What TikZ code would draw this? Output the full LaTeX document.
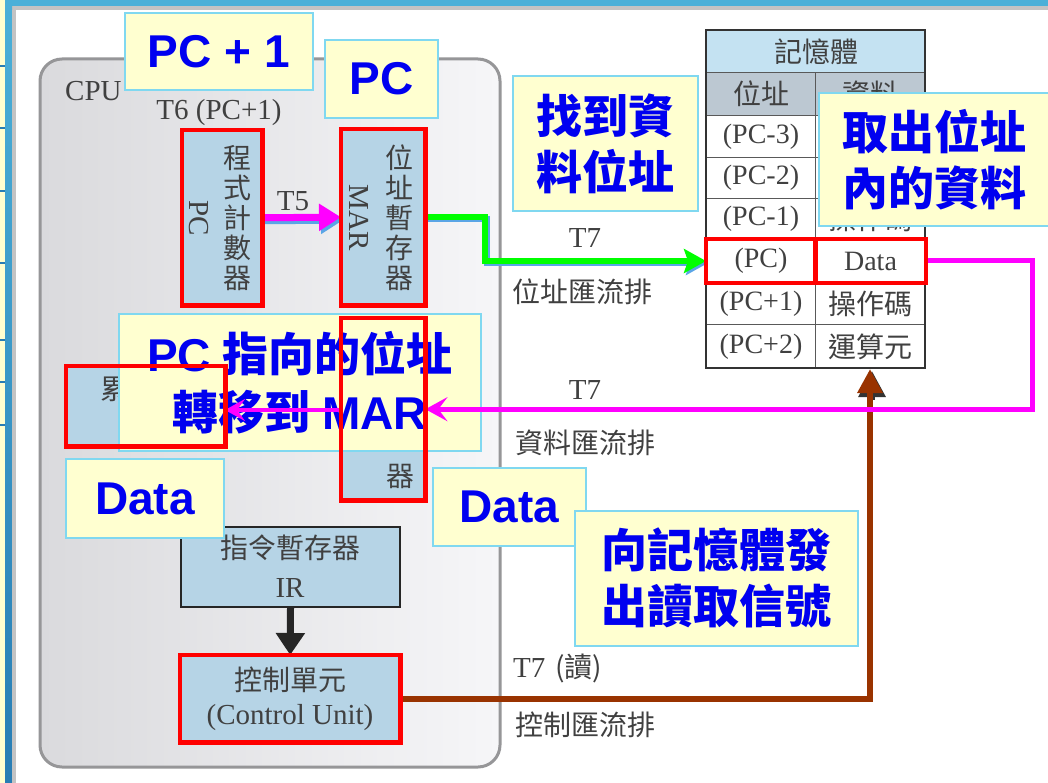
\documentclass[tikz,border=0pt]{standalone}
\usepackage{fontspec}
\setmainfont{Liberation Serif}
\newfontfamily\ovlsans{Liberation Sans}
\newfontfamily\cjk{Noto Sans CJK TC}
\usetikzlibrary{arrows.meta}
\definecolor{ovlfill}{RGB}{255,255,208}
\definecolor{ovledge}{RGB}{128,216,240}
\definecolor{ovltext}{RGB}{0,0,240}
\definecolor{regfill}{RGB}{182,212,230}
\definecolor{txtgray}{RGB}{64,64,64}
\definecolor{hdrfill}{RGB}{196,226,242}
\definecolor{hdrtwo}{RGB}{188,200,210}
\definecolor{busmag}{RGB}{255,0,255}
\definecolor{busgreen}{RGB}{0,255,0}
\definecolor{busbrown}{RGB}{153,51,0}
\definecolor{shadowblue}{RGB}{90,165,230}
\definecolor{topblue}{RGB}{75,176,216}
\definecolor{darkblue}{RGB}{40,125,180}
\definecolor{cpuedge}{RGB}{150,150,152}
\definecolor{stripgray}{RGB}{195,195,195}
\begin{document}
\begin{tikzpicture}[x=1pt,y=-1pt,
  ovl/.style={draw=ovledge, line width=1.8, fill=ovlfill, text=ovltext, align=center, inner sep=0, anchor=north west},
  ovlfont/.style={font=\cjk\bfseries\fontsize{46}{56}\selectfont},
  latfont/.style={font=\ovlsans\bfseries\fontsize{46}{56}\selectfont},
  reg/.style={fill=regfill, inner sep=0, anchor=north west},
  redbox/.style={draw=red, line width=4.5},
  gl/.style={text=txtgray, font=\fontsize{29}{31}\selectfont, inner sep=0},
  glc/.style={text=txtgray, font=\cjk\fontsize{28}{30}\selectfont, inner sep=0, align=center},
  cell/.style={draw=gray!70!black, line width=1, inner sep=0, anchor=north west, text=txtgray, font=\fontsize{28}{30}\selectfont},
  cellc/.style={cell, font=\cjk\fontsize{28}{30}\selectfont},
]
\useasboundingbox (0,0) rectangle (1048,783);
\fill[white] (0,0) rectangle (1048,783);
% frame of the slide
\fill[topblue] (0,0) rectangle (1048,6);
\fill[stripgray] (12,6) rectangle (1048,10);
\fill[ovlfill] (0,0) rectangle (5,783);
\foreach \yy in {66,128,191,263,340,382,425}
  \draw[darkblue, line width=1.5] (0,\yy) -- (5,\yy);
\shade[top color=topblue, bottom color=darkblue] (5,0) rectangle (12,783);
\fill[stripgray] (12,10) rectangle (16,783);

% CPU
\path[draw=cpuedge, line width=3, rounded corners=22, left color={rgb,255:red,218;green,218;blue,221}, right color={rgb,255:red,246;green,246;blue,248}] (40,59) rectangle (500,767);
\node[gl, anchor=west] (cpulbl) at (65,91) {CPU};
\node[gl] (t6lbl) at (219,113) {T6 (PC+1)};

% memory table
\node[cellc, fill=hdrfill, minimum width=219, minimum height=42] (memhdr) at (706,30) {記憶體};
\node[cellc, fill=hdrtwo, minimum width=109, minimum height=43] (addrhdr) at (706,72) {位址};
\node[cellc, fill=hdrtwo, minimum width=110, minimum height=43] (datahdr) at (815,72) {資料};
\node[cell, fill=white, minimum width=109, minimum height=42] (a1) at (706,115) {(PC-3)};
\node[cell, fill=white, minimum width=110, minimum height=42] (d1) at (815,115) {};
\node[cell, fill=white, minimum width=109, minimum height=41] (a2) at (706,157) {(PC-2)};
\node[cell, fill=white, minimum width=110, minimum height=41] (d2) at (815,157) {};
\node[cell, fill=white, minimum width=109, minimum height=41] (a3) at (706,198) {(PC-1)};
\node[cellc, fill=white, minimum width=110, minimum height=41] (d3) at (815,198) {操作碼};
\node[cell, fill=white, minimum width=109, minimum height=43] (a4) at (706,239) {(PC)};
\node[cell, fill=white, minimum width=110, minimum height=43] (d4) at (815,239) {Data};
\node[cell, fill=white, minimum width=109, minimum height=42] (a5) at (706,282) {(PC+1)};
\node[cellc, fill=white, minimum width=110, minimum height=42] (d5) at (815,282) {操作碼};
\node[cell, fill=white, minimum width=109, minimum height=44] (a6) at (706,324) {(PC+2)};
\node[cellc, fill=white, minimum width=110, minimum height=44] (d6) at (815,324) {運算元};
\draw[line width=2.5, black!80] (706,30) rectangle (925,368);
\coordinate (membot) at (870,369);

% registers
\node[reg, minimum width=80, minimum height=175] (pcreg) at (182,130) {};
\node[glc] (pctxt) at (237,218) {程\\式\\計\\數\\器};
\node[gl, rotate=-90] (pcname) at (199,218) {PC};
\node[reg, minimum width=84, minimum height=176] (marreg) at (341,129) {};
\node[glc] (martxt) at (399,218) {位\\址\\暫\\存\\器};
\node[gl, rotate=-90] (marname) at (359,218) {MAR};
\node[reg, minimum width=84, minimum height=182] (mdrreg) at (341,318) {};
\node[glc] (mdrtxt) at (400,476) {器};
\node[reg, minimum width=159, minimum height=80] (accreg) at (66,366) {};
\node[glc, anchor=west] (acctxt) at (100,389) {累加器};
\node[reg, draw=black!85, line width=2, minimum width=219, minimum height=80] (irreg) at (180,526) {};
\node[glc] (irtxt1) at (290,548) {指令暫存器};
\node[gl] (irtxt2) at (290,588) {IR};
\node[reg, minimum width=220, minimum height=87] (cureg) at (180,655) {};
\node[glc] (cutxt1) at (290,680) {控制單元};
\node[gl] (cutxt2) at (290,718) {(Control Unit)};

% bus labels
\node[gl] (t5lbl) at (293,201) {T5};
\node[gl] (t7a) at (585,238) {T7};
\node[glc] (busaddr) at (582,292) {位址匯流排};
\node[gl] (t7b) at (585,390) {T7};
\node[glc] (busdata) at (585,443) {資料匯流排};
\node[gl, anchor=west] (t7c) at (513,668) {T7};
\node[glc, anchor=west] (t7read) at (555,668) {(讀)};
\node[glc] (busctl) at (585,725) {控制匯流排};

% bend points
\coordinate (gbend) at (485,240);
\coordinate (gbends) at (487,242);
\coordinate (mbend) at (1032,340);
\coordinate (bshadowa) at (872,400);
\coordinate (bshadowb) at (872,371);

% T5 arrow PC -> MAR (with blue shadow)
\draw[shadowblue, line width=7, -{Triangle[width=26,length=22]}] ([shift={(2,3)}]pcreg.east) -- ([shift={(2,3)}]marreg.west);
\draw[busmag, line width=7, -{Triangle[width=26,length=22]}] (pcreg.east) -- (marreg.west);

% green address bus
\draw[shadowblue, line width=6, -{Stealth[width=24,length=22,inset=4]}] ([shift={(2,2)}]marreg.east) -| (gbends) |- ([shift={(2,2)}]a4.west);
\draw[busgreen, line width=6, -{Stealth[width=24,length=22,inset=4]}] (marreg.east) -| (gbend) |- (a4.west);

% IR -> CU
\draw[black!85, line width=7, -{Triangle[width=28,length=22]}] (irreg.south) -- (cureg.north);

% brown control bus
\draw[black!80, line width=6, -{Triangle[width=26,length=26]}] (bshadowa) -- (bshadowb);
\draw[busbrown, line width=6, -{Triangle[width=24,length=24]}] (cureg.east) -| (membot);

% overlay call-outs
\node[ovl, latfont, minimum width=188, minimum height=77] (ovpc1) at (124,12) {PC + 1};
\node[ovl, latfont, minimum width=113, minimum height=78] (ovpc) at (324,39) {PC};
\node[ovl, ovlfont, minimum width=185, minimum height=135] (ovfind) at (512,75) {找到資\\料位址};
\node[ovl, ovlfont, minimum width=232, minimum height=133] (ovfetch) at (818,92) {取出位址\\內的資料};
\node[ovl, font=\bfseries\fontsize{46}{58}\selectfont, minimum width=362, minimum height=137] (ovmove) at (118,313) {{\ovlsans PC} {\cjk 指向的位址}\\{\cjk 轉移到} {\ovlsans MAR}};
\node[ovl, latfont, minimum width=158, minimum height=79] (ovdata1) at (65,458) {Data};
\node[ovl, latfont, minimum width=153, minimum height=78] (ovdata2) at (432,467) {Data};
\node[ovl, ovlfont, minimum width=283, minimum height=135] (ovread) at (574,510) {向記憶體發\\出讀取信號};

% magenta data bus and transfer arrows (above call-outs)
\draw[busmag, line width=5, -{Stealth[width=24,length=22,inset=9]}] (d4.east) -| (mbend) |- (mdrreg.east);
\coordinate (mdrl) at (341,410);
\coordinate (accr) at (225,410);
\draw[busmag, line width=4, -{Stealth[width=22,length=20,inset=8]}] (mdrl) -- (accr);

% red highlight frames
\draw[redbox] (pcreg.north west) rectangle (pcreg.south east);
\draw[redbox] (marreg.north west) rectangle (marreg.south east);
\draw[redbox] (mdrreg.north west) rectangle (mdrreg.south east);
\draw[redbox] (accreg.north west) rectangle (accreg.south east);
\draw[redbox] (cureg.north west) rectangle (cureg.south east);
\draw[redbox] (a4.north west) rectangle (a4.south east);
\draw[redbox] (d4.north west) rectangle (d4.south east);
\end{tikzpicture}
\end{document}
